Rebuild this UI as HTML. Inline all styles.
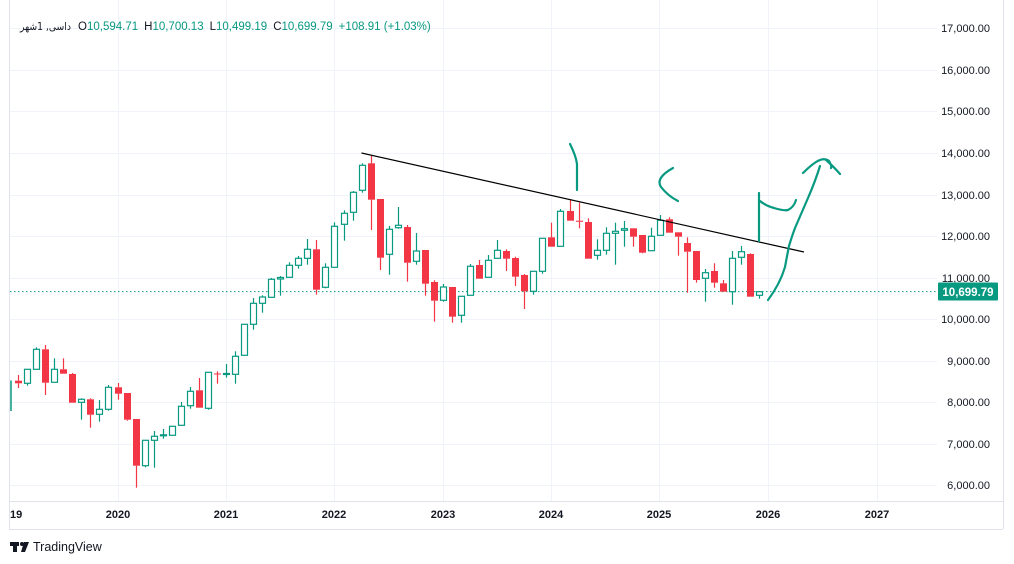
<!DOCTYPE html>
<html><head><meta charset="utf-8"><style>
body{margin:0;background:#fff;width:1014px;height:564px;overflow:hidden;font-family:"Liberation Sans","Noto Sans CJK SC",sans-serif}
svg{position:absolute;left:0;top:0}
</style></head><body>
<svg id="s" width="1014" height="564" xmlns="http://www.w3.org/2000/svg" font-family="Liberation Sans, sans-serif">
<rect width="1014" height="564" fill="#fff"/>
<g id="grid" stroke="#f0f3fa" stroke-width="1"></g>
<line x1="9.5" y1="0" x2="9.5" y2="529" stroke="#e0e3eb"/>
<line x1="9" y1="501.5" x2="1003" y2="501.5" stroke="#e0e3eb"/>
<line x1="9" y1="529.5" x2="1003" y2="529.5" stroke="#e0e3eb"/>
<line x1="1003.5" y1="0" x2="1003.5" y2="529" stroke="#e0e3eb"/>
<line x1="10" y1="291.6" x2="937" y2="291.6" stroke="#089981" stroke-dasharray="1.5,2.5"/>
<g id="c"></g>
<line x1="361.5" y1="153" x2="804" y2="252" stroke="#000" stroke-width="1.2"/>
<g fill="none" stroke="#089981" stroke-width="2.2" stroke-linecap="round" stroke-linejoin="round">
<path d="M570,144 Q576,156 577,164 L577,190"/>
<path d="M673,168 Q655,178 661,187 Q668,196 678,201"/>
<path d="M759,193 L759,241 M760,201 Q766,206 774,208 Q784,211 788,210 Q794,207 796,200"/>
<path d="M768,300 Q780,284 785,267 Q787,256 789,246 Q792,236 795,228 Q802,212 808,198 Q815,182 820,166 M803,173 Q810,166 816,162 Q824,157 829,161 Q832,166 831,168 M826,160 Q834,167 840,174"/>
</g>
<g id="ax" font-size="11" fill="#131722"></g>
<rect x="938" y="282.5" width="60" height="18" fill="#089981" rx="1"/>
<text x="968" y="296" font-size="11.5" font-weight="bold" fill="#fff" text-anchor="middle">10,699.79</text>
<text x="20" y="30" font-size="10.5" fill="#131722" textLength="51" lengthAdjust="spacingAndGlyphs" font-family="DejaVu Sans, sans-serif">داسی, 1شهر</text>
<text x="78" y="30" font-size="11.5"><tspan fill="#131722">O</tspan><tspan fill="#089981">10,594.71</tspan><tspan fill="#131722" dx="6">H</tspan><tspan fill="#089981">10,700.13</tspan><tspan fill="#131722" dx="6">L</tspan><tspan fill="#089981">10,499.19</tspan><tspan fill="#131722" dx="6">C</tspan><tspan fill="#089981">10,699.79</tspan><tspan fill="#089981" dx="6">+108.91 (+1.03%)</tspan></text>
<g fill="#131722"><rect x="10" y="542" width="9" height="4"/><rect x="13" y="542" width="4" height="10"/><circle cx="22" cy="544" r="2"/><path d="M24,542 L29,542 L25,552 L21,552 Z"/></g>
<text x="33" y="551" font-size="12.5" fill="#131722">TradingView</text>
</svg>
<script>
var NS="http://www.w3.org/2000/svg";
function el(p,t,a,txt){var e=document.createElementNS(NS,t);for(var k in a)e.setAttribute(k,a[k]);if(txt)e.textContent=txt;p.appendChild(e);return e;}
var g=document.getElementById('grid'),ax=document.getElementById('ax');
var ticks=[[17000,28],[16000,70],[15000,111],[14000,153],[13000,195],[12000,236],[11000,278],[10000,319],[9000,361],[8000,402],[7000,444],[6000,485]];
ticks.forEach(function(t){el(g,'line',{x1:10,x2:937,y1:t[1]+.5,y2:t[1]+.5});el(ax,'text',{x:990,y:t[1]+4,'text-anchor':'end'},t[0].toLocaleString('en-US')+'.00');});
var yrs=[["19",9],["2020",118],["2021",226],["2022",334],["2023",443],["2024",551],["2025",659],["2026",768],["2027",877]];
yrs.forEach(function(y){if(y[1]>12)el(g,'line',{x1:y[1]+.5,x2:y[1]+.5,y1:0,y2:501});el(ax,'text',{x:y[0]=="19"?10:y[1],y:518,'text-anchor':y[0]=="19"?'start':'middle','font-weight':'bold'},y[0]);});
var d=[[-11,380.7,383.3,375,388,0],[-10,369.3,383.3,369.3,385.7,1],[-9,349.3,369.3,347.3,369.3,1],[-8,349.3,382.7,345,395,0],[-7,369.3,382.3,358.3,382.3,1],[-6,369.3,373.7,358.3,373.7,0],[-5,374,402.7,373,402.7,0],[-4,399.3,402.3,398.3,419.7,1],[-3,399.3,414.7,398.3,427.7,0],[-2,409.3,414.3,400,421.7,1],[-1,387.3,409.3,385,410.7,1],[0,387.3,393.7,383,399.7,0],[1,393,419.7,393,420.7,0],[2,419,465.7,419,487.7,0],[3,440.3,465.7,440.3,467.3,1],[4,436.3,440.3,431,467.7,1],[5,434.8,435.8,429,438.7,1],[6,426.3,435.3,426.3,435.3,1],[7,406.3,425.3,402,425.3,1],[8,391.3,405.7,387,408.7,1],[9,390.3,407.7,378,407.7,0],[10,372.3,408.3,372.3,409.7,1],[11,373.5,374.5,371.3,383.7,0],[12,373.5,374.5,364,377.7,1],
[13,356.3,374.3,351.3,383.7,1],[14,324.3,355.3,324.3,355.3,1],[15,303.3,324.3,298,329.7,1],[16,297,303.3,295.3,312.7,1],[17,279.3,297.3,278,297.3,1],[18,277.5,279,276,295.7,1],[19,265.3,277.3,262.3,277.3,1],[20,258.3,265.3,256,268.7,1],[21,249.3,258.3,239,264.7,1],[22,249.3,289.7,240,294.7,0],[23,267.3,287.3,263.3,288.3,1],[24,226.3,267.3,222.3,267.3,1],[25,213.3,224.3,210.3,240.7,1],[26,192.3,212.3,191,220.7,1],[27,165.3,190.3,163.3,192.7,1],[28,163.3,199.7,155,230,0],[29,199,257.7,199,270,0],[30,229.3,254.3,226,274.7,1],[31,225.3,227.7,207,228.7,1],[32,227,262.7,225,281.7,0],[33,251,261.3,233,264.7,1],[34,250,283.7,250,295.7,0],[35,282,300.7,280.3,321.7,0],[36,287,300.3,284,301.7,1],
[37,287,316.7,287,322.7,0],[38,296.3,315.3,296.3,322.7,1],[39,266.3,295.3,264,295.3,1],[40,265,278.7,260,278.7,0],[41,260.3,277.3,255,277.3,1],[42,250.3,258.3,240,258.3,1],[43,251,258.7,249.3,271,0],[44,258,276.7,256.7,286,0],[45,275,291.3,274,309,0],[46,271.3,291.3,271.3,294.7,1],[47,238.3,271.3,238.3,273.7,1],[48,237.3,246.7,222.7,246.7,0],[49,211.3,246.3,209,246.3,1],[50,211,220.7,199.3,220.7,0],[51,220.7,221.8,202.7,228.3,0],[52,222,258.7,218.3,258.7,0],[53,250.3,255.3,239.3,259.7,1],[54,233.3,250.3,227.3,254.7,1],[55,231.3,233.3,222.7,264.7,1],[56,228.7,230.3,221,246.7,1],[57,228.3,236.7,228.3,246.7,0],[58,235,252.7,235,253.3,0],[59,236.3,250.7,227.7,250.7,1],
[60,220.3,235.3,215,235.3,1],[61,219.3,232.7,217.3,232.7,0],[62,232.3,236.7,232.3,255.7,0],[63,243,251.7,237.3,292.7,0],[64,251,280,251,282.7,0],[65,272.7,278.3,269,301.7,1],[66,271,282.7,263.3,287.7,0],[67,283.3,291.7,280,291.7,0],[68,258.3,291.7,251,304.7,1],[69,251.7,257.3,246,264.7,1],[70,254,296.7,253.3,296.7,0],[71,291.7,295.3,291.7,298.7,1]];
var c=document.getElementById('c');
el(c,'line',{x1:11,x2:11,y1:380.5,y2:411,stroke:'#089981','stroke-width':1.5});
d.forEach(function(k){var x=117.5+9.04*k[0],col=k[5]?'#089981':'#f23645';
 var xc=Math.round(x)+.5;
 el(c,'line',{x1:xc,x2:xc,y1:k[3],y2:k[1],stroke:col,'stroke-width':1.2});
 el(c,'line',{x1:xc,x2:xc,y1:k[2],y2:k[4],stroke:col,'stroke-width':1.2});
 var h=Math.max(k[2]-k[1],1);
 if(k[5]) el(c,'rect',{x:xc-3,y:k[1],width:6,height:h,fill:'#fff',stroke:col,'stroke-width':1.2});
 else el(c,'rect',{x:xc-3.5,y:k[1],width:7,height:h,fill:col});
});
</script>
</body></html>
